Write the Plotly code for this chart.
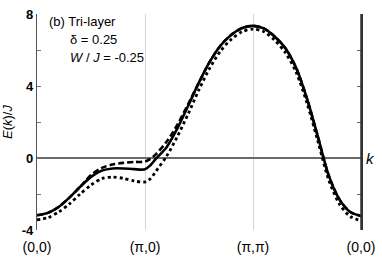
import plotly.graph_objects as go

# k-path position: 0=(0,0), 1=(pi,0), 2=(pi,pi), 3=(0,0)
k_pos = [0, 0.1, 0.2, 0.3, 0.4, 0.5, 0.6, 0.7, 0.8, 0.9, 1.0, 1.05, 1.1, 1.2, 1.3, 1.4,
         1.5, 1.6, 1.7, 1.8, 1.9, 2.0, 2.1, 2.2, 2.3, 2.4, 2.5, 2.6, 2.7, 2.8, 2.9, 3.0]

E_solid = [-3.18, -3.05, -2.72, -2.2, -1.6, -1.05, -0.7, -0.58, -0.58, -0.62, -0.63, -0.4,
           -0.05, 0.6, 1.65, 2.9, 4.2, 5.35, 6.25, 6.85, 7.22, 7.34, 7.2, 6.75, 6.1, 5.0,
           3.3, 1.2, -0.95, -2.3, -3.0, -3.22]

E_dashed = [-3.18, -3.05, -2.72, -2.2, -1.6, -0.95, -0.55, -0.36, -0.27, -0.22, -0.2, -0.05,
            0.2, 0.9, 1.85, 3.0, 4.2, 5.35, 6.25, 6.85, 7.22, 7.34, 7.2, 6.75, 6.1, 5.0,
            3.3, 1.2, -0.95, -2.3, -3.0, -3.22]

E_dotted = [-3.43, -3.32, -3.0, -2.55, -2.0, -1.5, -1.15, -1.06, -1.13, -1.28, -1.33, -1.15,
            -0.75, 0.1, 1.2, 2.45, 3.8, 5.0, 5.95, 6.6, 7.02, 7.16, 7.02, 6.55, 5.85, 4.75,
            3.05, 0.95, -1.2, -2.55, -3.25, -3.48]

x_tickvals = [0, 1, 2, 3]
x_ticktext = ["(0,0)", "(\u03c0,0)", "(\u03c0,\u03c0)", "(0,0)"]
y_tickvals = [-4, -2, 0, 2, 4, 6, 8]
y_ticktext = ["<b>-4</b>", "", "<b>0</b>", "", "<b>4</b>", "", "<b>8</b>"]

FONT = "Liberation Sans, Arial, sans-serif"

fig = go.Figure()
fig.add_trace(go.Scatter(x=k_pos, y=E_dashed, mode="lines", line=dict(color="black", width=2.6, dash="6px,3px", shape="spline", smoothing=0.8), showlegend=False))
fig.add_trace(go.Scatter(x=k_pos, y=E_solid, mode="lines", line=dict(color="black", width=2.6, shape="spline", smoothing=0.8), showlegend=False))
fig.add_trace(go.Scatter(x=k_pos, y=E_dotted, mode="lines", yaxis="y2", line=dict(color="black", width=2.8, dash="dot", shape="spline", smoothing=0.8), showlegend=False))

fig.update_layout(
    width=382, height=262,
    margin=dict(l=35, r=15, t=7, b=27),
    paper_bgcolor="white", plot_bgcolor="white",
    font=dict(family=FONT, size=13, color="black"),
    xaxis=dict(range=[0, 3], tickvals=x_tickvals, ticktext=x_ticktext, showgrid=True,
               gridcolor="#d4d4d4", gridwidth=1, showline=False, zeroline=False, ticks="",
               tickfont=dict(size=14), ticklabelstandoff=7),
    yaxis=dict(range=[-4, 8], tickvals=y_tickvals, ticktext=y_ticktext, showline=True,
               linecolor="#555", linewidth=1.2, ticks="inside", ticklen=4,
               tickcolor="#777", showgrid=False, zeroline=True, zerolinecolor="#6a6a6a",
               zerolinewidth=1.5, tickfont=dict(size=13), ticklabeloverflow="allow",
               title=dict(text="<i>E</i>(<i>k</i>)/<i>J</i>", font=dict(size=13), standoff=6)),
    yaxis2=dict(range=[-4, 8], overlaying="y", side="right", anchor="x", tickvals=y_tickvals,
                showticklabels=False, showline=True, linecolor="#333", linewidth=1.5,
                ticks="inside", ticklen=4, tickcolor="#666", showgrid=False, zeroline=False),
    shapes=[dict(type="line", xref="paper", yref="paper", x0=1, x1=1, y0=0, y1=1,
                 line=dict(color="#333", width=1.5), layer="above")],
    annotations=[
        dict(text="(b) Tri-layer", xref="paper", yref="paper", x=0.03, y=0.965,
             xanchor="left", yanchor="middle", showarrow=False, font=dict(size=13)),
        dict(text="\u03b4 = 0.25", xref="paper", yref="paper", x=0.096, y=0.882,
             xanchor="left", yanchor="middle", showarrow=False, font=dict(size=13)),
        dict(text="<i>W</i> / <i>J</i> = -0.25", xref="paper", yref="paper", x=0.096, y=0.798,
             xanchor="left", yanchor="middle", showarrow=False, font=dict(size=13)),
        dict(text="<i>k</i>", xref="paper", yref="y", x=1, y=0, xshift=3,
             xanchor="left", yanchor="middle", showarrow=False, font=dict(size=15)),
    ],
)

fig.write_html("out.html", config={"displayModeBar": False},
               post_script="document.body.style.margin='0';document.body.style.overflow='hidden';")
